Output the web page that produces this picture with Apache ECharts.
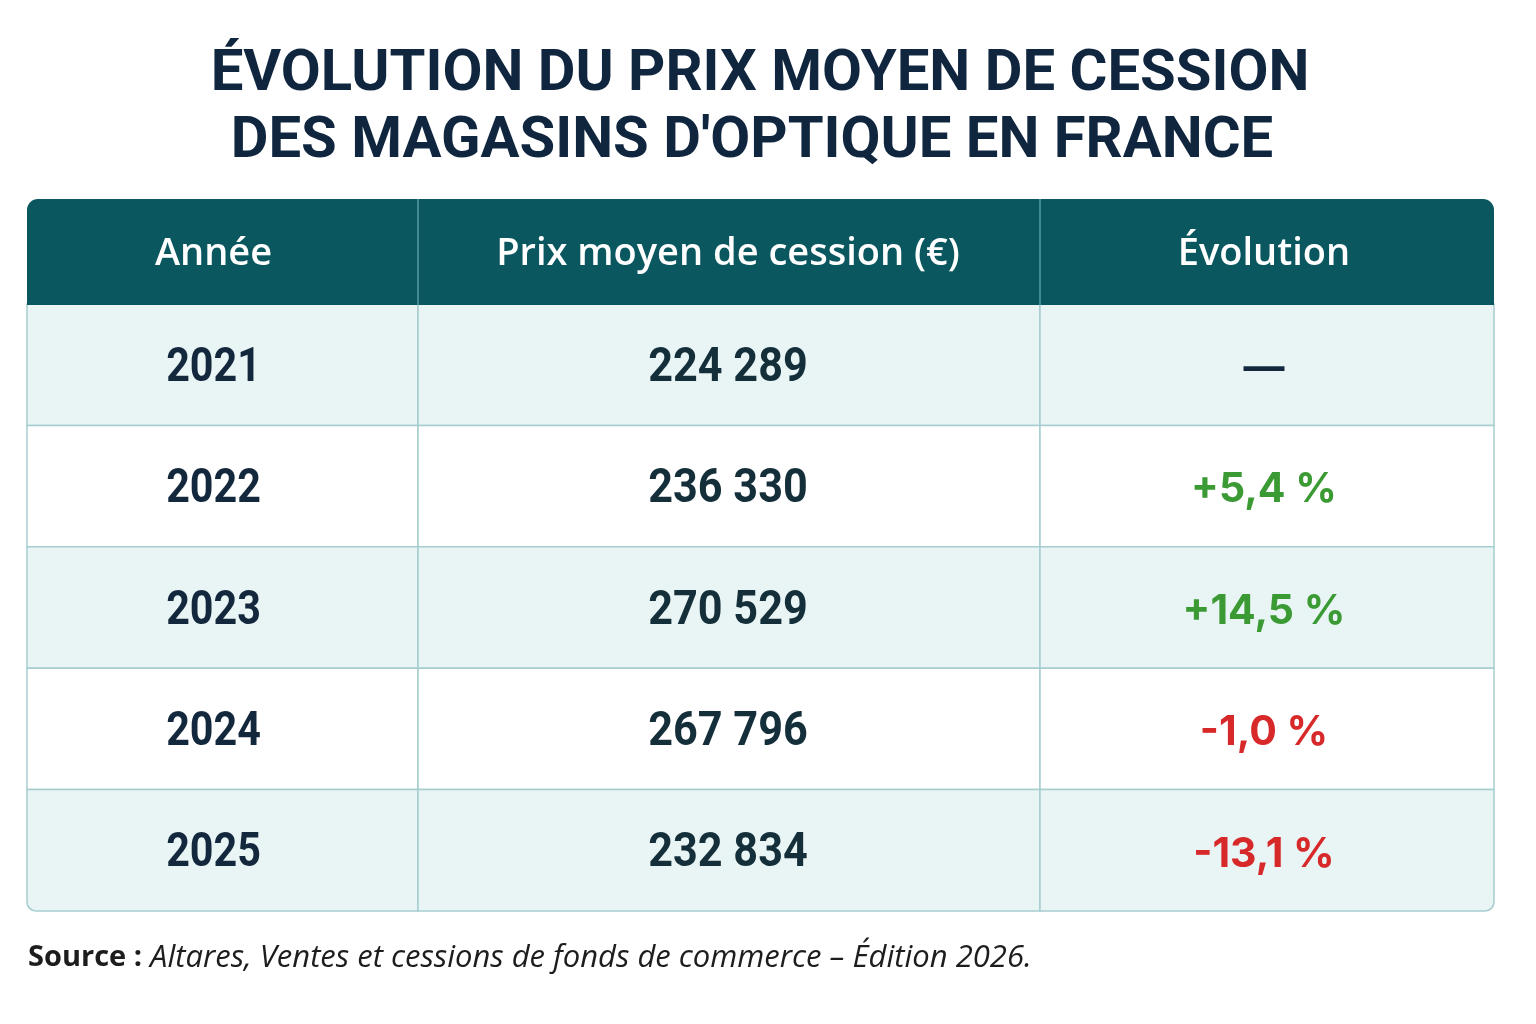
<!DOCTYPE html>
<html>
<head>
<meta charset="utf-8">
<title>Évolution du prix moyen de cession</title>
<script src="https://cdn.jsdelivr.net/npm/echarts@6/dist/echarts.min.js"></script>
<style>
  html, body { margin: 0; padding: 0; background: #fff; }
  #chart { width: 1536px; height: 1024px; }
</style>
</head>
<body>
<div id="chart"></div>
<script>
// données du tableau
const titleLines = ["ÉVOLUTION DU PRIX MOYEN DE CESSION", "DES MAGASINS D'OPTIQUE EN FRANCE"];
const columns = ["Année", "Prix moyen de cession (€)", "Évolution"];
const years = ["2021", "2022", "2023", "2024", "2025"];
const prices = [224289, 236330, 270529, 267796, 232834];
const evolutions = [null, 5.4, 14.5, -1.0, -13.1];
const sourceLabel = "Source :";
const sourceText = "Altares, Ventes et cessions de fonds de commerce – Édition 2026.";

// mise en page
const colEdges = [0, 391, 1013, 1467];
const colShift = [-9, -1, -3];
const colSqueeze = [0.86, 0.9, 1];
const headBg = "#0a5760";
const headLine = "#3f8b90";
const stripe = "#e9f5f5";
const gridLine = "#a6cdd0";
const darkText = "#13283c";
const green = "#3b9a34";
const red = "#d8292a";

function fmtPrice(v) {
  return String(v).replace(/\B(?=(\d{3})+(?!\d))/g, " ");
}
function fmtEvol(v) {
  if (v === null) return "—";
  const s = Math.abs(v).toFixed(1).replace(".", ",");
  return (v > 0 ? "+" : "-") + s + " %";
}
function evolColor(v) {
  if (v === null) return darkText;
  return v >= 0 ? green : red;
}

const chart = echarts.init(document.getElementById("chart"));

const headData = columns.map((c, i) => [i, 0]);
const bodyData = [];
years.forEach((y, r) => {
  for (let c = 0; c < columns.length; c++) bodyData.push([c, r]);
});

function cellBox(api, col, row) {
  const x0 = api.coord([colEdges[col], row])[0];
  const x1 = api.coord([colEdges[col + 1], row])[0];
  const yc = api.coord([0, row])[1];
  const h = api.size([0, 1])[1];
  return { x: x0, y: yc - h / 2, width: x1 - x0, height: h, cx: (x0 + x1) / 2, cy: yc };
}

function renderHead(params, api) {
  const col = api.value(0);
  const b = cellBox(api, col, 0);
  let r = 0;
  if (col === 0) r = [11, 0, 0, 0];
  if (col === columns.length - 1) r = [0, 11, 0, 0];
  const children = [
    {
      type: "rect",
      shape: { x: b.x, y: b.y, width: b.width, height: b.height, r: r },
      style: { fill: headBg }
    },
    {
      type: "text",
      x: b.cx + colShift[col],
      y: b.cy + 2,
      style: {
        text: columns[col],
        fill: "#ffffff",
        font: "600 38px 'Open Sans'",
        align: "center",
        verticalAlign: "middle"
      }
    }
  ];
  if (col > 0) {
    children.push({
      type: "line",
      shape: { x1: b.x, y1: b.y, x2: b.x, y2: b.y + b.height },
      style: { stroke: headLine, lineWidth: 2 }
    });
  }
  return { type: "group", children: children };
}

function renderBody(params, api) {
  const col = api.value(0);
  const row = api.value(1);
  const b = cellBox(api, col, row);
  const last = row === years.length - 1;
  let r = 0;
  if (last && col === 0) r = [0, 0, 0, 9];
  if (last && col === columns.length - 1) r = [0, 0, 9, 0];
  let text, color, font;
  if (col === 0) {
    text = years[row]; color = darkText; font = "700 48px Roboto";
  } else if (col === 1) {
    text = fmtPrice(prices[row]); color = "#142f3a"; font = "700 48px Roboto";
  } else {
    text = fmtEvol(evolutions[row]); color = evolColor(evolutions[row]); font = "700 41px Inter";
  }
  return {
    type: "group",
    children: [
      {
        type: "rect",
        shape: { x: b.x, y: b.y, width: b.width, height: b.height, r: r },
        style: { fill: row % 2 === 0 ? stripe : "#ffffff", stroke: gridLine, lineWidth: 1.5 }
      },
      {
        type: "text",
        x: b.cx + colShift[col],
        y: b.cy + 4,
        scaleX: colSqueeze[col],
        style: {
          text: text,
          fill: color,
          font: font,
          align: "center",
          verticalAlign: "middle"
        }
      }
    ]
  };
}

const option = {
  backgroundColor: "#ffffff",
  animation: false,
  grid: [
    { left: 27, right: 42, top: 199, height: 106 },
    { left: 27, right: 42, top: 304, height: 607 }
  ],
  xAxis: [
    { gridIndex: 0, type: "value", min: colEdges[0], max: colEdges[colEdges.length - 1], show: false },
    { gridIndex: 1, type: "value", min: colEdges[0], max: colEdges[colEdges.length - 1], show: false }
  ],
  yAxis: [
    { gridIndex: 0, type: "category", data: ["head"], show: false },
    { gridIndex: 1, type: "category", data: years, inverse: true, show: false }
  ],
  series: [
    {
      type: "custom",
      xAxisIndex: 1,
      yAxisIndex: 1,
      renderItem: renderBody,
      encode: { x: 0, y: 1 },
      data: bodyData,
      z: 2
    },
    {
      type: "custom",
      xAxisIndex: 0,
      yAxisIndex: 0,
      renderItem: renderHead,
      encode: { x: 0, y: 1 },
      data: headData,
      z: 3
    }
  ],
  graphic: [
    {
      type: "text",
      x: 760,
      y: 75,
      style: {
        text: titleLines[0],
        fill: "#10263f",
        font: "700 58px Roboto",
        align: "center",
        verticalAlign: "middle"
      }
    },
    {
      type: "text",
      x: 752,
      y: 142,
      style: {
        text: titleLines[1],
        fill: "#10263f",
        font: "700 58px Roboto",
        align: "center",
        verticalAlign: "middle"
      }
    },
    {
      type: "text",
      x: 28,
      y: 958,
      style: {
        text: "{b|" + sourceLabel + "}{i| " + sourceText + "}",
        verticalAlign: "middle",
        rich: {
          b: { font: "700 29px 'Open Sans'", fill: "#1d1d1d" },
          i: { font: "italic 400 31px 'Open Sans'", fill: "#1d1d1d" }
        }
      }
    }
  ]
};

chart.setOption(option);
</script>
</body>
</html>
